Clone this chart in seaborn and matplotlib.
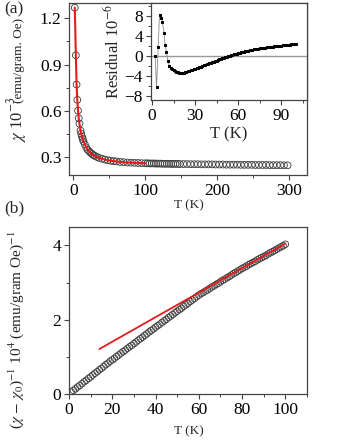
import numpy as np
import matplotlib
matplotlib.use("Agg")
import matplotlib.pyplot as plt
import seaborn as sns
from matplotlib.ticker import MultipleLocator

# ---- data ----
# (a) susceptibility vs T
T_a = [2, 3.5, 4.5, 5.5, 6.5, 7.5, 8.5, 10, 11, 12, 13, 14, 16, 18, 20, 22, 24, 26, 28, 30,
       33, 36, 40, 44, 48, 52, 56, 60, 65, 70, 75, 80, 85, 90, 95, 100,
       103, 106, 109, 112, 115, 118, 121, 124, 127, 130, 133, 136, 139, 142, 145, 148,
       153, 158, 163, 168, 173, 178, 183, 188, 193, 198, 203, 208, 213, 218, 223, 228,
       233, 238, 243, 248, 253, 258, 263, 268, 273, 278, 283, 288, 293, 298]
chi_a = [1.27, 0.96, 0.77, 0.67, 0.60, 0.55, 0.515, 0.47, 0.45, 0.43, 0.415, 0.40, 0.38, 0.36,
         0.345, 0.335, 0.325, 0.317, 0.31, 0.305, 0.298, 0.292, 0.286, 0.281, 0.277, 0.274,
         0.271, 0.269, 0.266, 0.264, 0.262, 0.261, 0.26, 0.259, 0.258, 0.257,
         0.257, 0.256, 0.256, 0.256, 0.255, 0.255, 0.255, 0.254, 0.254, 0.254, 0.254, 0.253,
         0.253, 0.253, 0.253, 0.252,
         0.252, 0.252, 0.251, 0.251, 0.251, 0.250, 0.250, 0.250, 0.250, 0.249, 0.249, 0.249,
         0.248, 0.248, 0.248, 0.248, 0.247, 0.247, 0.247, 0.247, 0.246, 0.246, 0.246, 0.246,
         0.245, 0.245, 0.245, 0.245, 0.244, 0.244]

# inset: residuals of the fit
T_res = [2.2, 3.1, 4.3, 5.2, 6.5, 7.2, 8.4, 9.1, 10, 11.1] + list(range(12, 101))
res = [-0.1, -6.3, 1.8, 8.1, 7.6, 6.7, 4.5, 2.2, 0.7, -1.0,
       -2.1, -2.4, -2.6, -2.8, -3.0, -3.15, -3.28, -3.36, -3.4, -3.4,
       -3.36, -3.3, -3.22, -3.13, -3.03, -2.93, -2.82, -2.71, -2.6, -2.49,
       -2.38, -2.27, -2.16, -2.05, -1.94, -1.83, -1.72, -1.61, -1.5, -1.39,
       -1.28, -1.17, -1.06, -0.95, -0.84, -0.73, -0.62, -0.51, -0.41, -0.31,
       -0.21, -0.11, -0.02, 0.07, 0.16, 0.25, 0.34, 0.43, 0.51, 0.59,
       0.67, 0.74, 0.81, 0.88, 0.95, 1.02, 1.08, 1.14, 1.2, 1.26,
       1.31, 1.36, 1.41, 1.46, 1.51, 1.55, 1.6, 1.64, 1.68, 1.72,
       1.76, 1.8, 1.84, 1.88, 1.91, 1.94, 1.98, 2.01, 2.04, 2.07,
       2.1, 2.13, 2.16, 2.19, 2.22, 2.25, 2.28, 2.31, 2.35]

# (b) inverse susceptibility
T_b = list(range(1, 101))
inv_b = [0.05, 0.10, 0.14, 0.19, 0.23, 0.28, 0.33, 0.37, 0.42, 0.46,
         0.51, 0.56, 0.60, 0.65, 0.69, 0.74, 0.79, 0.83, 0.88, 0.92,
         0.96, 1.01, 1.05, 1.10, 1.14, 1.18, 1.23, 1.27, 1.31, 1.36,
         1.40, 1.45, 1.49, 1.53, 1.58, 1.62, 1.67, 1.71, 1.75, 1.80,
         1.84, 1.88, 1.93, 1.97, 2.01, 2.06, 2.10, 2.14, 2.19, 2.23,
         2.27, 2.31, 2.36, 2.40, 2.44, 2.49, 2.53, 2.57, 2.62, 2.66,
         2.70, 2.73, 2.77, 2.80, 2.84, 2.88, 2.91, 2.95, 2.98, 3.02,
         3.06, 3.09, 3.13, 3.16, 3.20, 3.24, 3.27, 3.31, 3.34, 3.38,
         3.41, 3.44, 3.48, 3.51, 3.54, 3.57, 3.61, 3.64, 3.67, 3.70,
         3.73, 3.77, 3.80, 3.83, 3.86, 3.90, 3.93, 3.96, 3.99, 4.03]
T_fit_b = [14, 100]
inv_fit_b = [1.21, 4.05]

# ---- style ----
sns.set_style("ticks")
plt.rcParams["font.family"] = ["Liberation Serif", "DejaVu Serif"]
plt.rcParams["mathtext.fontset"] = "stix"
plt.rcParams["axes.edgecolor"] = "#444444"
plt.rcParams["axes.linewidth"] = 0.9
plt.rcParams["xtick.color"] = "#444444"
plt.rcParams["ytick.color"] = "#444444"
plt.rcParams["xtick.labelcolor"] = "black"
plt.rcParams["ytick.labelcolor"] = "black"

RED = "#e41a1c"
CIRC = "#3a3a3a"

fig = plt.figure(figsize=(3.4, 4.4), dpi=100)
ax1 = fig.add_axes([0.203, 0.602, 0.700, 0.391])
axi = fig.add_axes([0.443, 0.773, 0.460, 0.220])
ax2 = fig.add_axes([0.203, 0.1045, 0.700, 0.380])


def style_ticks(ax, size=12.5):
    ax.tick_params(which="major", direction="out", length=3.5, width=0.8, labelsize=size, pad=2)
    ax.tick_params(which="minor", direction="out", length=2, width=0.7)
    for s in ax.spines.values():
        s.set_visible(True)


# (a) main
sns.scatterplot(x=T_a, y=chi_a, ax=ax1, marker="o", s=24, facecolor="none",
                edgecolor=CIRC, linewidth=0.6, zorder=2)
n_fit = sum(1 for t in T_a if t <= 100)
sns.lineplot(x=T_a[:n_fit], y=chi_a[:n_fit], ax=ax1, color=RED, lw=1.5,
             sort=False, estimator=None, zorder=3)
ax1.set_xlim(-6, 325)
ax1.set_ylim(0.18, 1.30)
ax1.xaxis.set_major_locator(MultipleLocator(100))
ax1.xaxis.set_minor_locator(MultipleLocator(50))
ax1.yaxis.set_major_locator(MultipleLocator(0.3))
ax1.yaxis.set_minor_locator(MultipleLocator(0.15))
ax1.set_xlabel("")
ax1.set_ylabel("")
style_ticks(ax1)

# inset
axi.axhline(0, color="#999999", lw=1.0, zorder=1)
sns.lineplot(x=T_res, y=res, ax=axi, color="#8a8a8a", lw=0.6, sort=False, estimator=None,
             marker="s", markersize=2.0, markerfacecolor="black", markeredgecolor="black",
             zorder=2)
axi.set_xlim(-1, 108)
axi.set_ylim(-8.8, 10.5)
axi.xaxis.set_major_locator(MultipleLocator(30))
axi.xaxis.set_minor_locator(MultipleLocator(15))
axi.yaxis.set_major_locator(MultipleLocator(4))
axi.yaxis.set_minor_locator(MultipleLocator(2))
axi.set_xlabel("T (K)", fontsize=12, labelpad=2)
axi.set_ylabel(r"Residual 10$^{-6}$", fontsize=12, labelpad=1)
style_ticks(axi)

# (b)
sns.scatterplot(x=T_b, y=inv_b, ax=ax2, marker="o", s=22, facecolor="none",
                edgecolor=CIRC, linewidth=0.6, zorder=2)
sns.lineplot(x=T_fit_b, y=inv_fit_b, ax=ax2, color=RED, lw=1.3, sort=False,
             estimator=None, zorder=3)
ax2.set_xlim(0, 110)
ax2.set_ylim(0, 4.5)
ax2.xaxis.set_major_locator(MultipleLocator(20))
ax2.xaxis.set_minor_locator(MultipleLocator(10))
ax2.yaxis.set_major_locator(MultipleLocator(2))
ax2.yaxis.set_minor_locator(MultipleLocator(1))
ax2.set_xlabel("")
ax2.set_ylabel("")
style_ticks(ax2)

# labels
fig.text(14 / 340, 1 - 9 / 440, "(a)", fontsize=12.5, ha="center", va="center")
fig.text(14 / 340, 1 - 208 / 440, "(b)", fontsize=12.5, ha="center", va="center")
fig.text(189 / 340, 1 - 205 / 440, "T (K)", fontsize=9.5, ha="center", va="center")
fig.text(189 / 340, 1 - 431 / 440, "T (K)", fontsize=9.5, ha="center", va="center")
fig.text(17 / 340, 1 - 119 / 440, r"$\chi$ 10$^{-3}$", fontsize=12, rotation=90,
         ha="center", va="center")
fig.text(19 / 340, 1 - 60 / 440, "(emu/gram. Oe)", fontsize=9.5, rotation=90,
         ha="center", va="center")
fig.text(16 / 340, 1 - 330 / 440,
         r"($\chi$ $-$ $\chi_0$)$^{-1}$ 10$^4$ (emu/gram Oe)$^{-1}$",
         fontsize=11, rotation=90, ha="center", va="center")

fig.savefig("out.png", dpi=100)
